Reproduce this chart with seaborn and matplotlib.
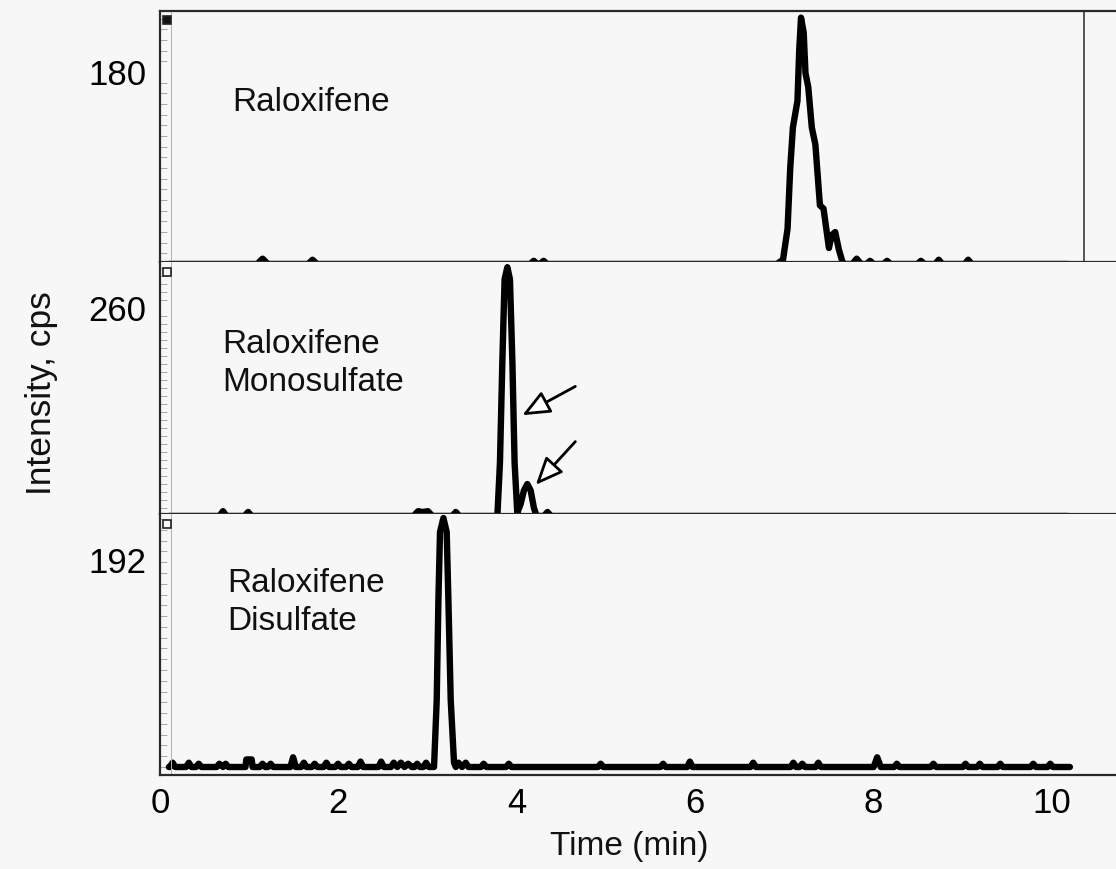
import numpy as np
import pandas as pd
import seaborn as sns
import matplotlib.pyplot as plt
from matplotlib.ticker import MultipleLocator

sns.set_theme(style="white")
plt.rcParams['font.family'] = ['Liberation Sans', 'DejaVu Sans']

# ------------------------------------------------------------
# data
# ------------------------------------------------------------
ral_time = [
    0.10, 1.09, 1.15, 1.21,
    1.66, 1.71, 1.76,
    4.15, 4.19, 4.23, 4.26, 4.30, 4.34,
    6.914, 6.984, 7.035, 7.065, 7.095, 7.146, 7.166, 7.186, 7.216, 7.236,
    7.267, 7.307, 7.347, 7.398, 7.438, 7.499, 7.529, 7.569, 7.609, 7.650, 7.680,
    7.76, 7.81, 7.86,
    7.92, 7.96, 8.00,
    8.11, 8.15, 8.19,
    8.49, 8.53, 8.57,
    8.69, 8.73, 8.77,
    9.02, 9.06, 9.10,
    10.18,
]
ral_int = [
    0, 0, 5, 0,
    0, 4, 0,
    0, 3, 0, 0, 3, 0,
    0, 4, 33, 90, 128, 153, 201, 231, 217, 179,
    166, 128, 112, 55, 52, 15, 27, 30, 14, 2, 0,
    0, 5, 0,
    0, 3, 0,
    0, 3, 0,
    0, 3, 0,
    0, 4, 0,
    0, 4, 0,
    0,
]

mono_time = [
    0.10, 0.665, 0.706, 0.746,
    0.948, 0.988, 1.028,
    2.842, 2.893, 2.943, 3.003, 3.054,
    3.276, 3.316, 3.356,
    3.782, 3.811, 3.838, 3.863, 3.894, 3.923, 3.950, 3.975,
    4.005, 4.043, 4.080, 4.118, 4.155, 4.192, 4.222,
    4.304, 4.344, 4.384,
    10.18,
]
mono_int = [
    0, 0, 6, 0,
    0, 5, 0,
    0, 6, 5, 6, 0,
    0, 5, 0,
    0, 67, 194, 296, 311, 296, 194, 67,
    4, 15, 32, 40, 32, 10, 0,
    0, 5, 0,
    0,
]

di_time = [
    0.10, 0.111, 0.141, 0.172,
    0.292, 0.323, 0.353,
    0.403, 0.434, 0.464,
    0.635, 0.665, 0.706, 0.736, 0.766,
    0.958, 0.968, 1.028, 1.038,
    1.119, 1.149, 1.179, 1.210, 1.240, 1.270,
    1.462, 1.492, 1.522,
    1.582, 1.613, 1.643,
    1.703, 1.734, 1.764,
    1.834, 1.865, 1.895,
    1.965, 1.996, 2.026,
    2.086, 2.117, 2.147,
    2.217, 2.248, 2.278,
    2.449, 2.479, 2.510,
    2.590, 2.620, 2.661, 2.701, 2.741, 2.782, 2.822,
    2.852, 2.883, 2.913, 2.953, 2.983, 3.014,
    3.072, 3.102, 3.121, 3.139, 3.177, 3.214, 3.233, 3.259, 3.296,
    3.316, 3.346, 3.386, 3.427, 3.457,
    3.598, 3.628, 3.659,
    3.880, 3.910, 3.941,
    4.91, 4.94, 4.97,
    5.61, 5.64, 5.67,
    5.91, 5.94, 5.97,
    6.62, 6.65, 6.68,
    7.07, 7.10, 7.13, 7.17, 7.20, 7.23,
    7.35, 7.38, 7.41,
    8.00, 8.04, 8.08,
    8.23, 8.26, 8.29,
    8.64, 8.67, 8.70,
    9.00, 9.03, 9.06,
    9.16, 9.19, 9.22,
    9.39, 9.42, 9.45,
    9.76, 9.79, 9.82,
    9.95, 9.98, 10.01,
    10.20,
]
di_int = [
    0, 0, 4, 0,
    0, 4, 0,
    0, 3, 0,
    0, 3, 0, 3, 0,
    0, 7, 7, 0,
    0, 3, 0, 0, 3, 0,
    0, 9, 0,
    0, 4, 0,
    0, 3, 0,
    0, 4, 0,
    0, 3, 0,
    0, 3, 0,
    0, 5, 0,
    0, 5, 0,
    0, 4, 0, 4, 0, 3, 0,
    0, 3, 0, 0, 4, 0,
    0, 62, 155, 218, 231, 218, 155, 62, 4,
    0, 4, 0, 4, 0,
    0, 3, 0,
    0, 3, 0,
    0, 3, 0,
    0, 3, 0,
    0, 5, 0,
    0, 4, 0,
    0, 4, 0, 0, 3, 0,
    0, 4, 0,
    0, 9, 0,
    0, 3, 0,
    0, 3, 0,
    0, 3, 0,
    0, 3, 0,
    0, 3, 0,
    0, 3, 0,
    0, 3, 0,
    0,
]

names = ["Raloxifene", "Raloxifene\nMonosulfate", "Raloxifene\nDisulfate"]
max_labels = [180, 260, 192]
time_ticks = [0, 2, 4, 6, 8, 10]

# arrows pointing at the two monosulfate isomers
arrow_tails = [(4.656, 162), (4.656, 93)]
arrow_tips = [(4.062, 126), (4.213, 39)]

# ------------------------------------------------------------
# layout
# ------------------------------------------------------------
bg = '#f7f7f7'
fig = plt.figure(figsize=(11.16, 8.69), dpi=100, facecolor=bg)

left = 160 / 1116
rects = [
    [left, 0.6985, 1 - left, 0.2888],
    [left, 0.4085, 1 - left, 0.2900],
    [left, 0.1082, 1 - left, 0.3003],
]
ylims = [(1.9, 237.2), (2.5, 317.5), (-7.4, 234.7)]
text_pos = [(0.0753, 0.635), (0.0649, 0.597), (0.070, 0.661)]
square_y = [0.964, 0.960, 0.962]
traces = [(ral_time, ral_int), (mono_time, mono_int), (di_time, di_int)]

axes = []
for k in range(3):
    ax = fig.add_axes(rects[k])
    ax.set_facecolor(bg)
    t, inten = traces[k]
    df = pd.DataFrame({'Time': t, 'Intensity': inten})
    sns.lineplot(data=df, x='Time', y='Intensity', ax=ax, color='black',
                 linewidth=4.6, estimator=None, sort=False,
                 solid_joinstyle='round', solid_capstyle='round')
    ax.set_xlim(0.011, 10.717)
    ax.set_ylim(*ylims[k])
    ax.set_xlabel('')
    ax.set_ylabel('')

    ax.set_yticks([max_labels[k]])
    ax.set_yticklabels([str(max_labels[k])])
    ax.yaxis.set_minor_locator(MultipleLocator(10))
    ax.tick_params(axis='y', which='major', length=0, pad=10,
                   labelsize=25, labelcolor='black')
    ax.tick_params(axis='y', which='minor', left=True, direction='in',
                   length=5, width=0.6, color='#9a9a9a')

    ax.set_xticks(time_ticks)
    if k < 2:
        ax.tick_params(axis='x', labelbottom=False, length=0)
    else:
        ax.set_xticklabels([str(v) for v in time_ticks])
        ax.tick_params(axis='x', length=0, pad=9, labelsize=25,
                       labelcolor='black')

    for side in ['left', 'bottom', 'top', 'right']:
        ax.spines[side].set_color('#2a2a2a')
        ax.spines[side].set_linewidth(1.6)
    ax.spines['right'].set_visible(False)
    if k > 0:
        ax.spines['top'].set_visible(False)

    # grey ruler line inside the y axis and the little marker square
    ax.plot([0.011, 0.011], [0, 1], transform=ax.transAxes,
            color='#b0b0b0', lw=0.7, clip_on=False)
    ax.plot([0.0068], [square_y[k]], transform=ax.transAxes, marker='s',
            markersize=5.5, markeredgewidth=1.2, markeredgecolor='#222222',
            markerfacecolor='#111111' if k == 0 else bg, linestyle='none')

    ax.text(text_pos[k][0], text_pos[k][1], names[k], transform=ax.transAxes,
            ha='left', va='center', fontsize=24, linespacing=1.3,
            color='#111111')
    axes.append(ax)

# right edge line of the top panel
axes[0].plot([0.9665, 0.9665], [0, 1], transform=axes[0].transAxes,
             color='#2a2a2a', lw=1.1)

for tail, tip in zip(arrow_tails, arrow_tips):
    axes[1].annotate('', xy=tip, xytext=tail, xycoords='data',
                     arrowprops=dict(arrowstyle='-|>,head_length=1.4,head_width=0.6',
                                     fc='white', ec='black', lw=2.0,
                                     shrinkA=0, shrinkB=0))

fig.text(42 / 1116, 1 - 393 / 869, 'Intensity, cps', rotation=90,
         ha='center', va='center', fontsize=25.5, color='#111111')
fig.text(629 / 1116, 1 - 846 / 869, 'Time (min)', ha='center', va='center',
         fontsize=24, color='#111111')

fig.savefig('out.png', dpi=100, facecolor=bg)
